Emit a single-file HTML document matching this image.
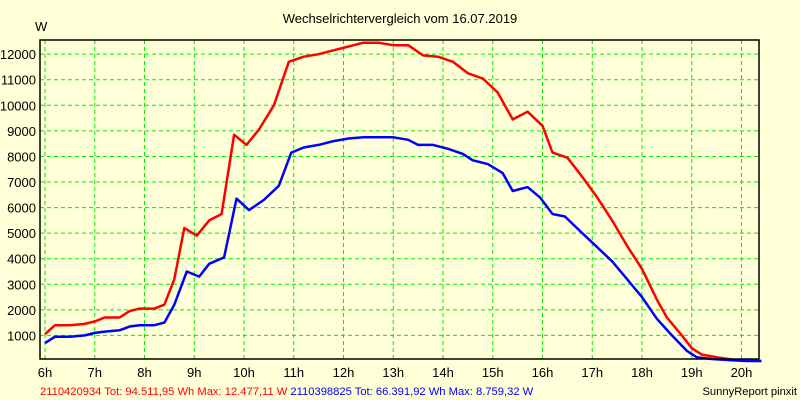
<!DOCTYPE html>
<html><head><meta charset="utf-8"><style>
body{margin:0;background:#ffffd8;}
svg{display:block;font-family:"Liberation Sans",sans-serif;}
</style></head><body>
<svg id="chart" width="800" height="400" viewBox="0 0 800 400">
<rect width="800" height="400" fill="#ffffd8"/>
<text x="400" y="23" font-size="13" text-anchor="middle" fill="#000">Wechselrichtervergleich vom 16.07.2019</text>
<text x="35" y="31" font-size="13" fill="#000">W</text>
<g id="grid"></g>
<g id="series"></g>
<rect x="40" y="40" width="719" height="319" fill="none" stroke="#000" stroke-width="1.5"/>
<g id="labels"></g>
<text x="40" y="395" font-size="11.2" fill="#ff0000">2110420934 Tot: 94.511,95 Wh Max: 12.477,11 W<tspan fill="#0000ff"> 2110398825 Tot: 66.391,92 Wh Max: 8.759,32 W</tspan></text>
<text x="797" y="395" font-size="11.2" text-anchor="end" fill="#000">SunnyReport pinxit</text>
</svg>
<script>
const yTicks=[1000,2000,3000,4000,5000,6000,7000,8000,9000,10000,11000,12000];
const xTicks=[6,7,8,9,10,11,12,13,14,15,16,17,18,19,20];
const redT=[6.0,6.2,6.5,6.8,7.0,7.2,7.5,7.7,7.9,8.2,8.4,8.6,8.8,9.05,9.3,9.55,9.8,10.05,10.3,10.6,10.9,11.2,11.5,11.8,12.1,12.4,12.7,13.0,13.3,13.6,13.9,14.2,14.5,14.8,15.1,15.4,15.7,16.0,16.2,16.5,16.8,17.1,17.4,17.7,18.0,18.3,18.5,18.8,19.0,19.2,19.5,19.8,20.0,20.4];
const redV=[1050,1400,1400,1450,1550,1700,1700,1950,2050,2050,2200,3200,5200,4900,5500,5750,8850,8450,9050,10000,11700,11900,12000,12150,12300,12450,12450,12350,12350,11950,11900,11700,11250,11050,10500,9450,9750,9200,8150,7950,7200,6400,5500,4500,3600,2400,1700,1000,500,250,150,60,20,0];
const blueT=[6.0,6.2,6.5,6.8,7.0,7.2,7.5,7.7,7.9,8.2,8.4,8.6,8.85,9.1,9.3,9.6,9.85,10.1,10.4,10.7,10.95,11.2,11.5,11.8,12.1,12.4,12.7,13.0,13.3,13.5,13.8,14.1,14.4,14.6,14.9,15.2,15.4,15.7,15.95,16.2,16.45,16.8,17.1,17.4,17.7,18.0,18.3,18.6,18.9,19.1,19.4,19.8,20.1,20.4];
const blueV=[700,950,950,1000,1100,1150,1200,1350,1400,1400,1500,2200,3500,3300,3800,4050,6350,5900,6300,6850,8150,8350,8450,8600,8700,8750,8750,8750,8650,8450,8450,8300,8100,7850,7700,7350,6650,6800,6400,5750,5650,5000,4450,3900,3200,2500,1650,1000,400,150,80,30,0,0];
const NS='http://www.w3.org/2000/svg';
function xs(h){return 45+(h-6)*49.75;}
function ys(v){return 361-v*0.02557;}
function mk(tag,attrs,parent){const e=document.createElementNS(NS,tag);for(const k in attrs)e.setAttribute(k,attrs[k]);parent.appendChild(e);return e;}
const grid=document.getElementById('grid'),labels=document.getElementById('labels'),series=document.getElementById('series');
yTicks.forEach(v=>{
 const l=mk('line',{x1:40,x2:759,y1:ys(v),y2:ys(v),stroke:'#00ee00','stroke-dasharray':'4,3'},grid);
 
 
 const t=mk('text',{x:36,y:ys(v)+5,'font-size':13,'text-anchor':'end',fill:'#000'},labels);
 
 
 t.textContent=v;
});
xTicks.forEach(h=>{
 const l=mk('line',{x1:xs(h),x2:xs(h),y1:40,y2:359,stroke:'#00ee00','stroke-dasharray':'4,3'},grid);
 
 
 const t=mk('text',{x:xs(h),y:377,'font-size':13,'text-anchor':'middle',fill:'#000'},labels);
 
 
 t.textContent=h+'h';
});
function line(T,V,color,name){
 const p=mk('polyline',{points:T.map((t,i)=>xs(t).toFixed(1)+','+ys(V[i]).toFixed(1)).join(' '),fill:'none',stroke:color,'stroke-width':2.5,'stroke-linejoin':'round'},series);
 
 
}
line(redT,redV,'#ff0000','series-2110420934');
line(blueT,blueV,'#0000ff','series-2110398825');
</script>
</body></html>
